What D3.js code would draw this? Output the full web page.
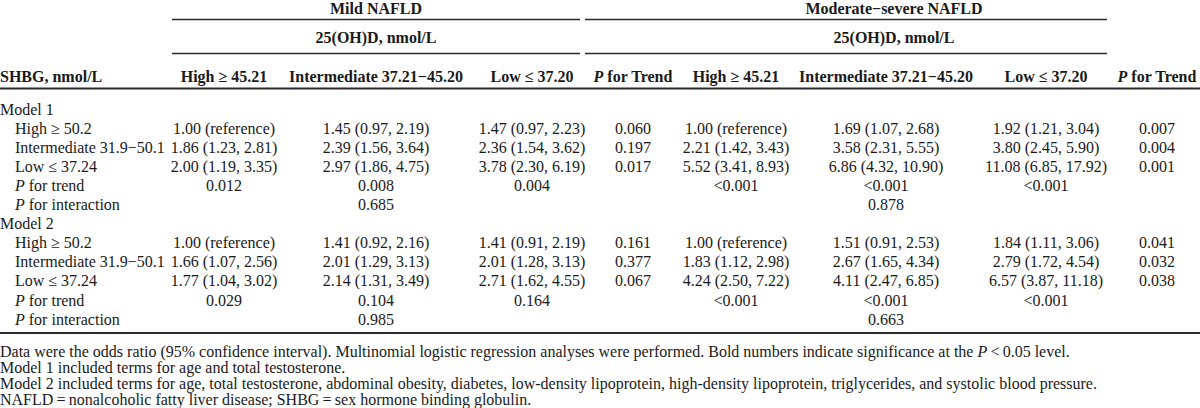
<!DOCTYPE html>
<html>
<head>
<meta charset="utf-8">
<script src="https://cdn.jsdelivr.net/npm/d3@7"></script>
<style>
  body { margin: 0; background: #fff; }
  svg { display: block; }
  text { font-family: "Liberation Serif", "Times New Roman", serif; fill: #1a1a1a; }
</style>
</head>
<body>
<svg id="table" width="1200" height="408"></svg>
<script>
const groupTitles = ["Mild NAFLD", "Moderate\u2212severe NAFLD"];
const exposureTitle = "25(OH)D, nmol/L";
const rowTitle = "SHBG, nmol/L";
const columnHeaders = [
    "High \u2265 45.21", "Intermediate 37.21\u221245.20", "Low \u2264 37.20", "P for Trend",
    "High \u2265 45.21", "Intermediate 37.21\u221245.20", "Low \u2264 37.20", "P for Trend"
];
const modelNames = ["Model 1", "Model 2"];
const shbgLevels = ["High \u2265 50.2", "Intermediate 31.9\u221250.1", "Low \u2264 37.24"];

const model1Values = [
    ["1.00 (reference)", "1.45 (0.97, 2.19)", "1.47 (0.97, 2.23)", "0.060", "1.00 (reference)", "1.69 (1.07, 2.68)", "1.92 (1.21, 3.04)", "0.007"],
    ["1.86 (1.23, 2.81)", "2.39 (1.56, 3.64)", "2.36 (1.54, 3.62)", "0.197", "2.21 (1.42, 3.43)", "3.58 (2.31, 5.55)", "3.80 (2.45, 5.90)", "0.004"],
    ["2.00 (1.19, 3.35)", "2.97 (1.86, 4.75)", "3.78 (2.30, 6.19)", "0.017", "5.52 (3.41, 8.93)", "6.86 (4.32, 10.90)", "11.08 (6.85, 17.92)", "0.001"]
];
const model1Trend = ["0.012", "0.008", "0.004", "", "<0.001", "<0.001", "<0.001", ""];
const model1Interaction = ["", "0.685", "", "", "", "0.878", "", ""];

const model2Values = [
    ["1.00 (reference)", "1.41 (0.92, 2.16)", "1.41 (0.91, 2.19)", "0.161", "1.00 (reference)", "1.51 (0.91, 2.53)", "1.84 (1.11, 3.06)", "0.041"],
    ["1.66 (1.07, 2.56)", "2.01 (1.29, 3.13)", "2.01 (1.28, 3.13)", "0.377", "1.83 (1.12, 2.98)", "2.67 (1.65, 4.34)", "2.79 (1.72, 4.54)", "0.032"],
    ["1.77 (1.04, 3.02)", "2.14 (1.31, 3.49)", "2.71 (1.62, 4.55)", "0.067", "4.24 (2.50, 7.22)", "4.11 (2.47, 6.85)", "6.57 (3.87, 11.18)", "0.038"]
];
const model2Trend = ["0.029", "0.104", "0.164", "", "<0.001", "<0.001", "<0.001", ""];
const model2Interaction = ["", "0.985", "", "", "", "0.663", "", ""];

// _P_ marks an italic P
const footnotes = [
    "Data were the odds ratio (95% confidence interval). Multinomial logistic regression analyses were performed. Bold numbers indicate significance at the _P_\u2009<\u20090.05 level.",
    "Model 1 included terms for age and total testosterone.",
    "Model 2 included terms for age, total testosterone, abdominal obesity, diabetes, low-density lipoprotein, high-density lipoprotein, triglycerides, and systolic blood pressure.",
    "NAFLD\u2009=\u2009nonalcoholic fatty liver disease; SHBG\u2009=\u2009sex hormone binding globulin."
];

const svg = d3.select("#table");
const width = 1200;
const fontSize = 16;

// column centres and group rules
const x = d3.scaleOrdinal().domain(d3.range(8)).range([224, 376, 532, 633, 736, 886, 1046, 1157]);
const groupSpans = [[172, 580], [585, 1107]];
const groupCentres = [376, 894];

// build body rows
const rows = [];
[[model1Values, model1Trend, model1Interaction], [model2Values, model2Trend, model2Interaction]].forEach((m, i) => {
    rows.push({ label: modelNames[i], indent: 0, cells: [] });
    shbgLevels.forEach((lvl, j) => rows.push({ label: lvl, indent: 15, cells: m[0][j] }));
    rows.push({ label: "_P_ for trend", indent: 15, cells: m[1] });
    rows.push({ label: "_P_ for interaction", indent: 15, cells: m[2] });
});

const y = d3.scalePoint().domain(d3.range(rows.length)).range([109, 319]);

// helper: write text with _P_ italic segments
function richText(sel, str) {
    const parts = str.split(/(_P_)/).filter(s => s.length);
    parts.forEach(p => {
        if (p === "_P_") sel.append("tspan").attr("font-style", "italic").text("P");
        else sel.append("tspan").text(p);
    });
}

function rule(y0, x1, x2, w) {
    svg.append("line")
        .attr("x1", x1).attr("x2", x2)
        .attr("y1", y0).attr("y2", y0)
        .attr("stroke", "#2b2b2b")
        .attr("stroke-width", w);
}

// --- header ---
const head = svg.append("g").attr("font-size", fontSize).attr("font-weight", "bold");

head.selectAll("text.group")
    .data(groupTitles)
    .join("text")
    .attr("class", "group")
    .attr("x", (d, i) => groupCentres[i])
    .attr("y", 8)
    .attr("dy", "0.35em")
    .attr("text-anchor", "middle")
    .text(d => d);

head.selectAll("text.expo")
    .data(groupTitles)
    .join("text")
    .attr("class", "expo")
    .attr("x", (d, i) => groupCentres[i])
    .attr("y", 37)
    .attr("dy", "0.35em")
    .attr("text-anchor", "middle")
    .text(exposureTitle);

groupSpans.forEach(s => {
    rule(19.5, s[0], s[1], 1.6);
    rule(53.5, s[0], s[1], 1.6);
});

head.append("text")
    .attr("x", 0)
    .attr("y", 76.5)
    .attr("dy", "0.35em")
    .text(rowTitle);

head.selectAll("text.col")
    .data(columnHeaders)
    .join("text")
    .attr("class", "col")
    .attr("x", (d, i) => x(i))
    .attr("y", 76.5)
    .attr("dy", "0.35em")
    .attr("text-anchor", "middle")
    .each(function(d) {
        const t = d3.select(this);
        if (d.startsWith("P ")) richText(t, "_P_" + d.slice(1));
        else t.text(d);
    });

rule(88.5, 0, width, 2);

// --- body ---
const body = svg.append("g").attr("font-size", fontSize);

const rowG = body.selectAll("g.row")
    .data(rows)
    .join("g")
    .attr("class", "row")
    .attr("transform", (d, i) => `translate(0,${y(i)})`);

rowG.append("text")
    .attr("x", d => d.indent)
    .attr("dy", "0.35em")
    .each(function(d) { richText(d3.select(this), d.label); });

rowG.selectAll("text.cell")
    .data(d => d.cells.map((v, i) => ({ v, i })).filter(c => c.v !== ""))
    .join("text")
    .attr("class", "cell")
    .attr("x", d => x(d.i))
    .attr("dy", "0.35em")
    .attr("text-anchor", "middle")
    .text(d => d.v);

rule(333, 0, width, 2);

// --- footnotes ---
const foot = svg.append("g").attr("font-size", fontSize);
foot.selectAll("text")
    .data(footnotes)
    .join("text")
    .attr("x", 0)
    .attr("y", (d, i) => 351 + i * 16)
    .attr("dy", "0.35em")
    .each(function(d) { richText(d3.select(this), d); });
</script>
</body>
</html>
